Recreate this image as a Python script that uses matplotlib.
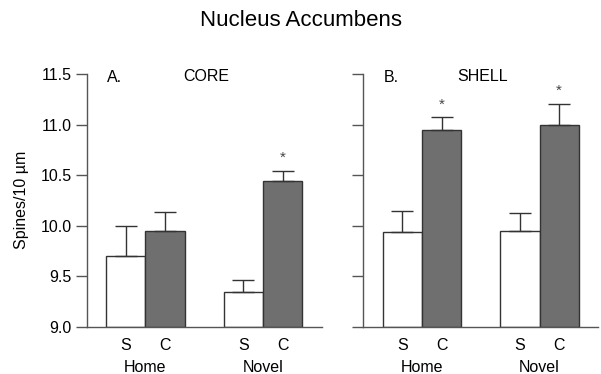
import numpy as np
import matplotlib.pyplot as plt

plt.rcParams['font.family'] = ['Liberation Sans', 'DejaVu Sans']

# data (mean spines per 10 um, + SEM)
groups = ['Home', 'Novel']
conditions = ['S', 'C']
core_S = [9.70, 9.34]
core_C = [9.95, 10.44]
core_S_err = [0.30, 0.12]
core_C_err = [0.18, 0.10]
shell_S = [9.94, 9.95]
shell_C = [10.95, 11.00]
shell_S_err = [0.20, 0.17]
shell_C_err = [0.12, 0.20]
core_sig = [False, True]
shell_sig = [True, True]

fig = plt.figure(figsize=(6.01, 3.74), dpi=100)
ax1 = fig.add_axes([86.7 / 601, 1 - 326.7 / 374, 235 / 601, 252.7 / 374])
ax2 = fig.add_axes([363.3 / 601, 1 - 326.7 / 374, 235 / 601, 252.7 / 374])

edge = '#333333'
grey = '#6f6f6f'
fs = 11.5

def panel(ax, s, c, s_err, c_err, sig, letter, name, labels):
    x = np.array([1, 4])
    ax.bar(x, np.array(s) - 9.0, bottom=9.0, width=1, color='white', edgecolor=edge, linewidth=1)
    ax.bar(x + 1, np.array(c) - 9.0, bottom=9.0, width=1, color=grey, edgecolor=edge, linewidth=1)
    ax.errorbar(x, s, yerr=[np.zeros(2), s_err], fmt='none', ecolor=edge, elinewidth=1, capsize=8)
    ax.errorbar(x + 1, c, yerr=[np.zeros(2), c_err], fmt='none', ecolor=edge, elinewidth=1, capsize=8)
    for i in range(2):
        if sig[i]:
            ax.text(x[i] + 1, c[i] + c_err[i] + 0.06, '*', ha='center', va='bottom', fontsize=11, color='#444444')
    ax.set_xlim(0, 6)
    ax.set_ylim(9.0, 11.5)
    ax.set_yticks([9.0, 9.5, 10.0, 10.5, 11.0, 11.5])
    ax.set_xticks([1, 2, 4, 5])
    ax.set_xticklabels(conditions * 2, fontsize=fs)
    ax.tick_params(axis='x', length=0, pad=8)
    ax.tick_params(axis='y', direction='out', length=8, width=1, color='#555555', labelsize=fs, pad=3)
    if not labels:
        ax.set_yticklabels([])
    for sp in ['top', 'right']:
        ax.spines[sp].set_visible(False)
    for sp in ['left', 'bottom']:
        ax.spines[sp].set_color('#555555')
        ax.spines[sp].set_linewidth(1)
    for i, g in enumerate(groups):
        ax.text(x[i] + 0.5, -0.13, g, transform=ax.get_xaxis_transform(), ha='center', va='top', fontsize=fs)
    ax.text(0.52, 11.47, letter, ha='left', va='center', fontsize=fs)
    ax.text(3.05, 11.48, name, ha='center', va='center', fontsize=fs)

panel(ax1, core_S, core_C, core_S_err, core_C_err, core_sig, 'A.', 'CORE', True)
panel(ax2, shell_S, shell_C, shell_S_err, shell_C_err, shell_sig, 'B.', 'SHELL', False)

ax1.set_ylabel('Spines/10 µm', fontsize=fs, labelpad=8)
fig.text(0.5, 1 - 20 / 374, 'Nucleus Accumbens', ha='center', va='center', fontsize=16)

fig.savefig('out.png', dpi=100)
